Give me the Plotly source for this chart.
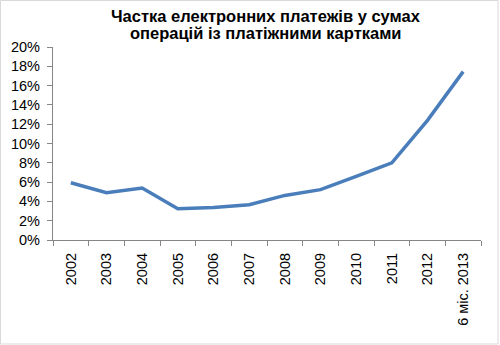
import plotly.graph_objects as go

categories = ["2002", "2003", "2004", "2005", "2006", "2007", "2008",
              "2009", "2010", "2011", "2012", "6 міс. 2013"]
values = [5.93, 4.9, 5.38, 3.24, 3.38, 3.65, 4.62, 5.22, 6.6, 8.0, 12.4, 17.45]
y_ticks = [0, 2, 4, 6, 8, 10, 12, 14, 16, 18, 20]
y_labels = [f"{v}%" for v in y_ticks]
title_lines = ["Частка електронних платежів у сумах",
               "операцій із платіжними картками"]

fig = go.Figure(go.Scatter(
    x=categories, y=values, mode="lines",
    line=dict(color="#4a7ebb", width=3.5),
    hoverinfo="skip"))

font = "Liberation Sans, Arial, sans-serif"
H = 193
fig.update_layout(
    width=500, height=345,
    margin=dict(l=53, r=19, t=47, b=105),
    paper_bgcolor="white", plot_bgcolor="white",
    showlegend=False,
    font=dict(family=font, size=14, color="black"),
    xaxis=dict(type="category", range=[-0.5, len(categories) - 0.5],
               tickangle=-90, showline=True, linecolor="#868686",
               linewidth=1.3, ticks="outside", tickson="boundaries", ticklen=5,
               tickcolor="#868686", showgrid=False, zeroline=False,
               ticklabelstandoff=6, tickfont=dict(size=14.5)),
    yaxis=dict(range=[0, 20], tickvals=y_ticks, ticktext=y_labels, showline=True,
               linecolor="#868686", linewidth=1.3, ticks="outside", ticklen=5,
               tickcolor="#868686", showgrid=False, zeroline=False,
               ticklabelstandoff=4, tickfont=dict(size=14.5)),
    annotations=[
        dict(text="<b>" + title_lines[0] + "</b>", xref="paper", yref="paper",
             x=0.497, y=1 + (47 - 15.5) / H, xanchor="center", yanchor="middle",
             showarrow=False, font=dict(family=font, size=16.5, color="black")),
        dict(text="<b>" + title_lines[1] + "</b>", xref="paper", yref="paper",
             x=0.497, y=1 + (47 - 33.5) / H, xanchor="center", yanchor="middle",
             showarrow=False, font=dict(family=font, size=16.5, color="black")),
    ],
    shapes=[dict(type="rect", xref="paper", yref="paper",
                 x0=-52.5 / 428, x1=1 + 17 / 428, y0=-104 / H, y1=1 + 46.5 / H,
                 line=dict(color="#d9d9d9", width=1))],
)

fig.write_html("out.html")
